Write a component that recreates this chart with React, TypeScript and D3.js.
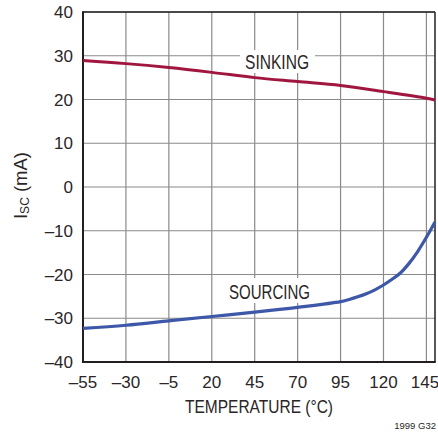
import React from "react";
import * as d3 from "d3";

const xTicks = [-55, -30, -5, 20, 45, 70, 95, 120, 145];
const yTicks = [-40, -30, -20, -10, 0, 10, 20, 30, 40];

const sinkTemp = [-55, -30, -5, 20, 45, 70, 95, 120, 145, 150];
const sinkVal = [28.9, 28.2, 27.3, 26.2, 25.0, 24.1, 23.2, 21.8, 20.3, 19.9];

const srcTemp = [-55, -30, -5, 20, 45, 70, 95, 100, 105, 110, 115, 120, 125, 130, 135, 140, 145, 150];
const srcVal = [-32.3, -31.6, -30.6, -29.6, -28.6, -27.5, -26.2, -25.7, -25.1, -24.4, -23.5, -22.4, -21.1, -19.6, -17.4, -14.7, -11.5, -8.0];

const W = 438;
const H = 435;
const L = 83, R = 435, T = 12, B = 362;
const FONT = "'Liberation Sans', Arial, Helvetica, sans-serif";
const TXT = "#2a2627";

export default function App() {
  const x = d3.scaleLinear().domain([-55, 150]).range([L, R]);
  const y = d3.scaleLinear().domain([-40, 40]).range([B, T]);
  const line = d3
    .line<[number, number]>()
    .x((d) => x(d[0]))
    .y((d) => y(d[1]))
    .curve(d3.curveCatmullRom.alpha(0.5));
  const sinkPts: [number, number][] = sinkTemp.map((t, i) => [t, sinkVal[i]]);
  const srcPts: [number, number][] = srcTemp.map((t, i) => [t, srcVal[i]]);

  return (
    <svg
      width={W}
      height={H}
      style={{ position: "absolute", left: 0, top: 0, background: "#fff" }}
      fontFamily={FONT}
    >
      <rect x={0} y={0} width={W} height={H} fill="#fff" />
      {/* grid */}
      {xTicks.map((t) => (
        <line key={"gx" + t} x1={x(t)} x2={x(t)} y1={T} y2={B} stroke="#8a8a8a" strokeWidth={1.2} />
      ))}
      {yTicks.map((t) => (
        <line key={"gy" + t} x1={L} x2={R} y1={y(t)} y2={y(t)} stroke="#8a8a8a" strokeWidth={1.2} />
      ))}
      {/* label backgrounds */}
      <rect x={240} y={50} width={75} height={23} fill="#fff" />
      <rect x={224} y={278} width={88} height={25} fill="#fff" />
      {/* frame */}
      <line x1={L} x2={R} y1={T} y2={T} stroke="#231f20" strokeWidth={1.5} />
      <line x1={R} x2={R} y1={T} y2={B} stroke="#231f20" strokeWidth={1.5} />
      <line x1={L} x2={L} y1={T - 0.75} y2={B + 1} stroke="#231f20" strokeWidth={2} />
      <line x1={L - 1} x2={R + 0.75} y1={B} y2={B} stroke="#231f20" strokeWidth={2} />
      {/* curves */}
      <path d={line(sinkPts) || ""} fill="none" stroke="#a0163f" strokeWidth={3} />
      <path d={line(srcPts) || ""} fill="none" stroke="#3d58a8" strokeWidth={3.2} />
      {/* series labels */}
      <text x={245} y={69} fontSize={19.5} fill={TXT} textLength={64} lengthAdjust="spacingAndGlyphs">
        SINKING
      </text>
      <text x={229} y={299} fontSize={19.5} fill={TXT} textLength={81} lengthAdjust="spacingAndGlyphs">
        SOURCING
      </text>
      {/* y tick labels */}
      {yTicks.map((t) => (
        <text key={"yl" + t} x={73} y={y(t) + 6} fontSize={17} fill={TXT} textAnchor="end">
          {t < 0 ? "\u2013" + Math.abs(t) : String(t)}
        </text>
      ))}
      {/* x tick labels */}
      {xTicks.map((t) => (
        <text
          key={"xl" + t}
          x={Math.min(x(t), W - 13)}
          y={388}
          fontSize={17}
          fill={TXT}
          textAnchor="middle"
        >
          {t < 0 ? "\u2013" + Math.abs(t) : String(t)}
        </text>
      ))}
      {/* axis titles */}
      <text x={185} y={413} fontSize={18.5} fill={TXT} textLength={148} lengthAdjust="spacingAndGlyphs">
        TEMPERATURE (°C)
      </text>
      <text
        transform="translate(27,185.5) rotate(-90)"
        textAnchor="middle"
        fontSize={18.5}
        fill={TXT}
      >
        I<tspan fontSize={12} dy={2}>SC</tspan>
        <tspan dy={-2}> (mA)</tspan>
      </text>
      <text x={436} y={429} fontSize={9.5} fill={TXT} textAnchor="end">
        1999 G32
      </text>
    </svg>
  );
}
